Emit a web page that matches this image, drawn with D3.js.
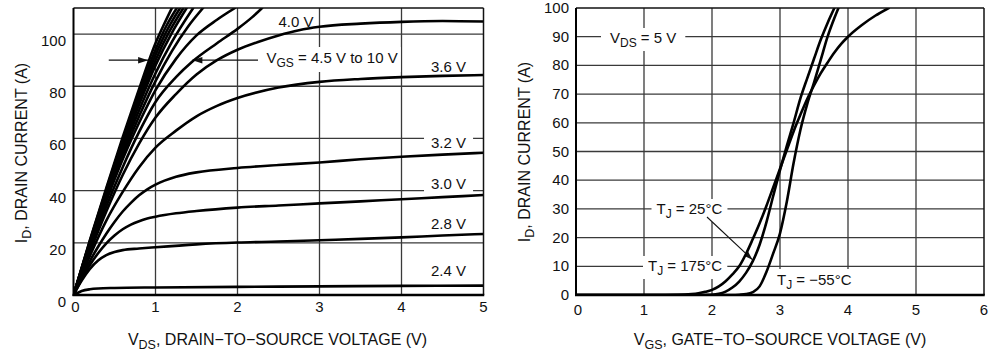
<!DOCTYPE html>
<html><head><meta charset="utf-8">
<script src="https://cdn.jsdelivr.net/npm/d3@7"></script>
<style>
body{margin:0;background:#fff}
svg{display:block}
text{font-family:"Liberation Sans",Arial,Helvetica,sans-serif;fill:#111;font-size:15px}
text.title{font-size:16px}
</style>
</head><body>
<svg id="c" width="990" height="353"></svg>
<script>
// ---------- DATA: left chart (output characteristics) ----------
const outXTicks = [0, 1, 2, 3, 4, 5];
const outYTicks = [0, 20, 40, 60, 80, 100];
const outXDomain = [0, 5];
const outYDomain = [0, 110];

const vgs10  = [[0,0],[0.2,21],[0.4,41],[0.6,60.5],[0.8,79],[1.0,96.5],[1.1,103.5],[1.2,110]];
const vgs9   = [[0,0],[0.2,20.7],[0.4,40.5],[0.6,59.5],[0.8,77.5],[1.0,94],[1.13,103],[1.26,110]];
const vgs8   = [[0,0],[0.2,20.4],[0.4,40],[0.6,58.6],[0.8,76],[1.0,92],[1.15,102],[1.3,110]];
const vgs7   = [[0,0],[0.2,20.1],[0.4,39.4],[0.6,57.6],[0.8,74.5],[1.0,90],[1.17,101],[1.34,110]];
const vgs6_5 = [[0,0],[0.2,19.8],[0.4,38.7],[0.6,56.5],[0.8,73],[1.0,88],[1.2,100.5],[1.38,110]];
const vgs6   = [[0,0],[0.2,19.4],[0.4,37.8],[0.6,55],[0.8,70.8],[1.0,85],[1.2,97],[1.46,110]];
const vgs5_5 = [[0,0],[0.2,19],[0.4,37],[0.6,53.5],[0.8,68.5],[1.0,82],[1.2,93.5],[1.4,103],[1.58,110]];
const vgs5   = [[0,0],[0.2,18.5],[0.4,36],[0.6,52],[0.8,66],[1.0,78.5],[1.25,90.5],[1.5,99.5],[1.75,105.5],[1.97,110]];
const vgs4_5 = [[0,0],[0.2,17.5],[0.4,34],[0.6,49],[0.8,62.5],[1.0,74],[1.25,83.5],[1.45,89.5],[1.75,96.5],[2.0,102],[2.18,106.5],[2.3,110]];
const vgs4_0 = [[0,0],[0.2,16.5],[0.4,32],[0.6,46],[0.8,58],[1.0,68],[1.25,77],[1.5,84.5],[1.75,90],[2.0,94],[2.25,97],[2.5,99.5],[2.75,101.5],[3.0,102.8],[3.5,104],[4.0,104.7],[4.5,105],[5.0,104.8]];
const vgs3_6 = [[0,0],[0.2,15],[0.4,28.5],[0.6,39.5],[0.8,49],[1.0,56.5],[1.25,63],[1.5,68.5],[1.75,72.5],[2.0,75.5],[2.5,79.5],[3.0,81.7],[3.5,82.8],[4.0,83.5],[4.5,84],[5.0,84.3]];
const vgs3_2 = [[0,0],[0.1,7],[0.2,13],[0.3,18.5],[0.4,23.5],[0.5,28],[0.6,32],[0.7,35.3],[0.8,38.2],[0.9,40.5],[1.0,42.3],[1.25,45.3],[1.5,47],[2.0,48.7],[2.5,49.8],[3.0,50.8],[3.5,52],[4.0,53],[4.5,53.8],[5.0,54.5]];
const vgs3_0 = [[0,0],[0.1,6],[0.2,11.5],[0.3,16],[0.4,19.8],[0.5,22.8],[0.6,25.2],[0.7,27],[0.8,28.3],[0.9,29.3],[1.0,30],[1.25,31.3],[1.5,32.2],[2.0,33.5],[2.5,34.3],[3.0,35.1],[3.5,35.9],[4.0,36.7],[4.5,37.5],[5.0,38.3]];
const vgs2_8 = [[0,0],[0.1,5.5],[0.2,10],[0.3,13.2],[0.4,15.3],[0.5,16.5],[0.6,17.2],[0.8,17.8],[1.0,18.3],[1.5,19.4],[2.0,20.1],[2.5,20.5],[3.0,21],[3.5,21.5],[4.0,22.1],[4.5,22.8],[5.0,23.4]];
const vgs2_4 = [[0,0],[0.05,0.8],[0.1,1.5],[0.2,2.2],[0.3,2.5],[0.5,2.7],[1.0,2.9],[2.0,3.1],[3.0,3.3],[4.0,3.5],[5.0,3.6]];
const outCurves = [vgs10, vgs9, vgs8, vgs7, vgs6_5, vgs6, vgs5_5, vgs5, vgs4_5, vgs4_0, vgs3_6, vgs3_2, vgs3_0, vgs2_8, vgs2_4];

// curve labels: [text, x (V), baseline y (A)]
const outLabels = [["4.0 V",2.5,102.9],["3.6 V",4.36,85.6],["3.2 V",4.36,56.2],["3.0 V",4.36,40.6],["2.8 V",4.36,25.3],["2.4 V",4.36,7.3]];
const outBoxed = ["3.2 V","3.0 V"];

// ---------- DATA: right chart (transfer characteristics) ----------
const trXTicks = [0, 1, 2, 3, 4, 5, 6];
const trYTicks = [0, 10, 20, 30, 40, 50, 60, 70, 80, 90, 100];
const trXDomain = [0, 6];
const trYDomain = [0, 100];

const tj175 = [[0,0],[1.0,0],[1.5,0.05],[1.7,0.3],[1.8,0.6],[1.9,1.1],[2.0,1.8],[2.1,3],[2.2,4.8],[2.3,7.2],[2.4,10],[2.5,14.3],[2.6,19.5],[2.7,25],[2.8,31],[2.9,37.5],[3.0,44],[3.1,50.5],[3.2,57],[3.3,62.8],[3.4,68.3],[3.5,73],[3.6,77.3],[3.7,81],[3.8,84.5],[3.9,87.5],[4.0,90],[4.2,94],[4.4,97.3],[4.6,100]];
const tj25  = [[0,0],[1.0,0],[1.8,0],[2.0,0.1],[2.1,0.4],[2.2,1.2],[2.3,2.6],[2.4,4.7],[2.5,7.7],[2.6,11.8],[2.7,17.5],[2.8,25.3],[2.9,34.5],[3.0,43.5],[3.1,52],[3.2,60],[3.3,68.5],[3.4,75.5],[3.5,82.3],[3.6,89],[3.7,94.8],[3.8,100]];
const tjm55 = [[0,0],[1.0,0],[2.3,0],[2.4,0.1],[2.5,0.3],[2.6,1.0],[2.7,3.0],[2.8,8],[2.9,14.5],[3.0,21.5],[3.1,32.5],[3.2,46],[3.3,57.5],[3.4,66.5],[3.5,74],[3.6,82],[3.7,90],[3.8,96.5],[3.86,100]];
const trCurves = [tj175, tj25, tjm55];

// ---------- layout ----------
const svg = d3.select("#c");
const xL = d3.scaleLinear(outXDomain, [73.5, 483.5]);
const yL = d3.scaleLinear(outYDomain, [295, 8]);
const xR = d3.scaleLinear(trXDomain, [576, 984]);
const yR = d3.scaleLinear(trYDomain, [295, 8]);

const GRID = "#3a3a3a";

function richText(parent, x, y, segs, anchor, subSize) {
  const t = parent.append("text").attr("x", x).attr("y", y).attr("text-anchor", anchor || "start");
  let shifted = false;
  segs.forEach(s => {
    const sub = typeof s !== "string";
    const ts = t.append("tspan").text(sub ? s.sub : s);
    if (sub) { ts.attr("font-size", subSize || 12); if (!shifted) { ts.attr("dy", 4); shifted = true; } }
    else if (shifted) { ts.attr("dy", -4); shifted = false; }
  });
  return t;
}
function boxBehind(g, t, px, py) {
  const b = t.node().getBBox();
  g.insert("rect", () => t.node()).attr("x", b.x - px).attr("y", b.y - py)
    .attr("width", b.width + 2 * px).attr("height", b.height + 2 * py).attr("fill", "#fff");
}
function arrow(g, x1, y1, x2, y2, len, hw, sw) {
  g.append("line").attr("x1", x1).attr("y1", y1).attr("x2", x2).attr("y2", y2)
    .attr("stroke", "#111").attr("stroke-width", sw);
  const a = Math.atan2(y2 - y1, x2 - x1);
  const bx = x2 - len * Math.cos(a), by = y2 - len * Math.sin(a);
  const nx = -Math.sin(a) * hw, ny = Math.cos(a) * hw;
  g.append("path").attr("d", `M${x2},${y2}L${bx + nx},${by + ny}L${bx - nx},${by - ny}Z`).attr("fill", "#111");
}

function panel(x, y, xTicks, yTicks, curves, id) {
  const g = svg.append("g");
  const [x0, x1] = x.range(), [y0, y1] = y.range();
  g.selectAll(".vg").data(xTicks.slice(1, -1)).join("line")
    .attr("x1", d => x(d)).attr("x2", d => x(d)).attr("y1", y0).attr("y2", y1)
    .attr("stroke", GRID).attr("stroke-width", 1.3);
  g.selectAll(".hg").data(yTicks.filter(d => d > 0 && d < y.domain()[1])).join("line")
    .attr("x1", x0).attr("x2", x1).attr("y1", d => y(d)).attr("y2", d => y(d))
    .attr("stroke", GRID).attr("stroke-width", 1.3);
  const ann = svg.append("g");
  svg.append("clipPath").attr("id", id).append("rect")
    .attr("x", x0).attr("y", y1).attr("width", x1 - x0).attr("height", y0 - y1);
  const line = d3.line().x(d => x(d[0])).y(d => y(d[1])).curve(d3.curveMonotoneX);
  const cg = svg.append("g").attr("clip-path", `url(#${id})`);
  cg.selectAll("path").data(curves).join("path").attr("d", line)
    .attr("fill", "none").attr("stroke", "#000").attr("stroke-width", 2.6)
    .attr("stroke-linejoin", "round").attr("stroke-linecap", "round");
  const fg = svg.append("g");
  fg.append("line").attr("x1", x0).attr("x2", x1).attr("y1", y1).attr("y2", y1).attr("stroke", "#111").attr("stroke-width", 1.5);
  fg.append("line").attr("x1", x1).attr("x2", x1).attr("y1", y1).attr("y2", y0).attr("stroke", "#111").attr("stroke-width", 1.5);
  fg.append("line").attr("x1", x0).attr("x2", x0).attr("y1", y1).attr("y2", y0 + 1).attr("stroke", "#000").attr("stroke-width", 2);
  fg.append("line").attr("x1", x0 - 1).attr("x2", x1 + 0.75).attr("y1", y0).attr("y2", y0).attr("stroke", "#000").attr("stroke-width", 2.6);
  return { g, ann, fg };
}

// ---------- left panel ----------
const L = panel(xL, yL, outXTicks, outYTicks, outCurves, "clipL");
L.fg.selectAll(".yt").data(outYTicks).join("text")
  .attr("x", 66).attr("y", d => yL(d) + 12).attr("text-anchor", "end").text(d => d);
L.fg.selectAll(".xt").data(outXTicks).join("text")
  .attr("x", d => xL(d) + (d === 0 ? 2 : 0)).attr("y", 312).attr("text-anchor", "middle").text(d => d);
outLabels.forEach(([txt, vx, vy]) => {
  const t = richText(L.ann, xL(vx), yL(vy), [txt]);
  if (outBoxed.includes(txt)) boxBehind(L.ann, t, 7, 1);
});
{
  const t = richText(L.ann, 266.5, 63, ["V", { sub: "GS" }, " = 4.5 V to 10 V"]);
  boxBehind(L.ann, t, 3, 2);
  arrow(L.ann, xL(0.43), yL(90), xL(0.91), yL(90), 10, 3.2, 1.2);
  arrow(L.ann, xL(2.25), yL(90), xL(1.45), yL(90), 10, 3.2, 1.2);
}
richText(L.fg, 277.5, 345, ["V", { sub: "DS" }, ", DRAIN\u2212TO\u2212SOURCE VOLTAGE (V)"], "middle", 12.5).attr("class", "title");
{
  const g = L.fg.append("g").attr("transform", "translate(26.5,153) rotate(-90)");
  richText(g, 0, 0, ["I", { sub: "D" }, ", DRAIN CURRENT (A)"], "middle", 12.5).attr("class", "title");
}

// ---------- right panel ----------
const R = panel(xR, yR, trXTicks, trYTicks, trCurves, "clipR");
R.fg.selectAll(".yt").data(trYTicks).join("text")
  .attr("x", 569).attr("y", d => yR(d) + 5).attr("text-anchor", "end").text(d => d);
R.fg.selectAll(".xt").data(trXTicks).join("text")
  .attr("x", d => xR(d) + (d === 0 ? 2 : 0)).attr("y", 314.5).attr("text-anchor", "middle").text(d => d);
{
  const t1 = richText(R.ann, 610, 43, ["V", { sub: "DS" }, " = 5 V"]);
  boxBehind(R.ann, t1, 9, 1);
  const t2 = richText(R.ann, 656.5, 214, ["T", { sub: "J" }, " = 25\u00B0C"]);
  boxBehind(R.ann, t2, 5, 1);
  const t3 = richText(R.ann, 648, 271, ["T", { sub: "J" }, " = 175\u00B0C"]);
  boxBehind(R.ann, t3, 5, 1);
  const t4 = richText(R.ann, 777, 285, ["T", { sub: "J" }, " = \u221255\u00B0C"]);
  boxBehind(R.ann, t4, 3, 2);
  arrow(R.ann, 707, 217, xR(2.595), yR(12.3), 9, 3, 1.1);
}
richText(R.fg, 780, 345, ["V", { sub: "GS" }, ", GATE\u2212TO\u2212SOURCE VOLTAGE (V)"], "middle", 12.5).attr("class", "title");
{
  const g = R.fg.append("g").attr("transform", "translate(529.5,152) rotate(-90)");
  richText(g, 0, 0, ["I", { sub: "D" }, ", DRAIN CURRENT (A)"], "middle", 12.5).attr("class", "title");
}
</script>
</body></html>
